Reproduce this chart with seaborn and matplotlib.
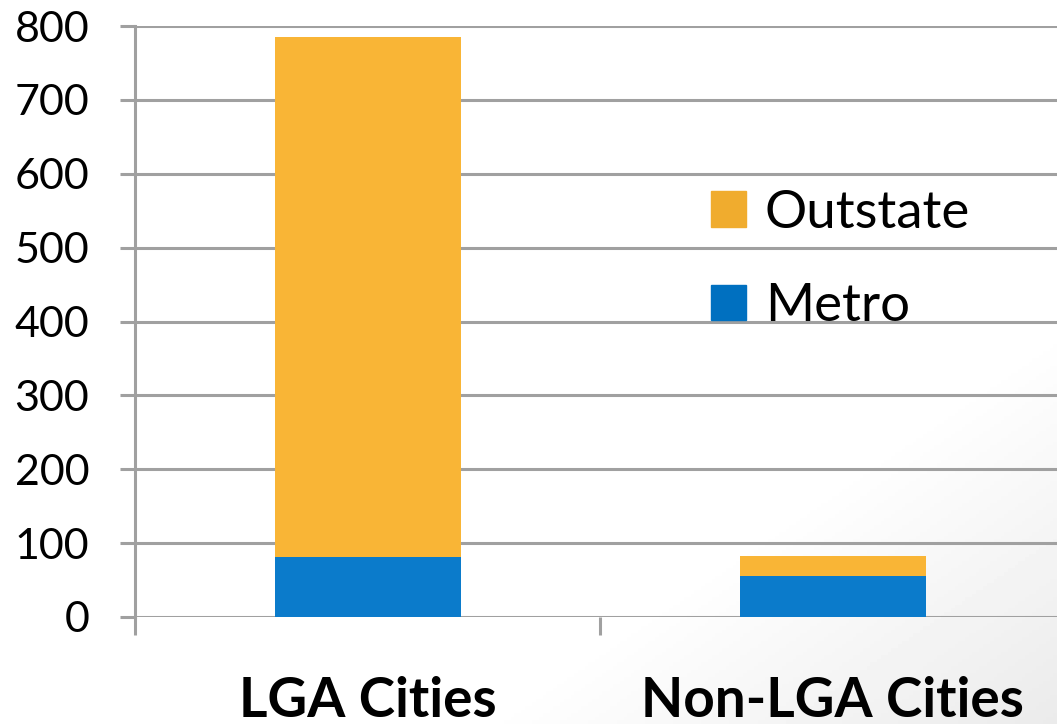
import numpy as np
import pandas as pd
import matplotlib.pyplot as plt
from matplotlib.patches import Patch
import seaborn as sns

# values
categories = ['LGA Cities', 'Non-LGA Cities']
metro = [81, 56]
outstate = [704, 27]
y_ticks = [0, 100, 200, 300, 400, 500, 600, 700, 800]

df = pd.DataFrame({'city': categories, 'Metro': metro, 'Outstate': outstate})
df['Total'] = df['Metro'] + df['Outstate']

sns.set_style('white')
plt.rcParams['font.family'] = ['Lato', 'DejaVu Sans']
plt.rcParams['text.color'] = 'black'
plt.rcParams['ytick.labelcolor'] = 'black'

fig = plt.figure(figsize=(10.57, 7.24), dpi=100)

# faint grey shading in the lower right corner
bg = fig.add_axes([0, 0, 1, 1], zorder=-5)
xx, yy = np.meshgrid(np.linspace(0, 1, 300), np.linspace(0, 1, 200))
t = np.clip((xx + yy - 1.45) / 0.55, 0, 1)
bg.imshow(1 - 0.08 * t, cmap='gray', vmin=0, vmax=1, aspect='auto', extent=[0, 1, 0, 1])
bg.axis('off')

ax = fig.add_axes([135 / 1057, 107 / 724, 930 / 1057, 591 / 724])
ax.patch.set_alpha(0)

sns.barplot(data=df, x='city', y='Total', color='#F9B536', width=0.4,
            saturation=1, linewidth=0, ax=ax, zorder=3)
sns.barplot(data=df, x='city', y='Metro', color='#0B7BCB', width=0.4,
            saturation=1, linewidth=0, ax=ax, zorder=4)

ax.set_xlim(-0.5, 1.5)
ax.set_ylim(0, 800)
ax.set_yticks(y_ticks)
ax.set_yticklabels([str(v) for v in y_ticks])
ax.yaxis.grid(True, color='#A0A0A0', linewidth=2.2, zorder=0)
ax.set_axisbelow(True)
for s in ['top', 'right', 'bottom']:
    ax.spines[s].set_visible(False)
ax.spines['left'].set_color('#A0A0A0')
ax.spines['left'].set_linewidth(2.2)

ax.tick_params(axis='y', length=11, width=2.2, color='#A0A0A0',
               labelsize=31, pad=22, left=True, labelcolor='black')
ax.set_xticks([-0.5, 0.5, 1.5], minor=False)
ax.set_xticklabels([])
ax.tick_params(axis='x', length=13, width=2.2, color='#A0A0A0', bottom=True)
ax.set_xlabel('')
ax.set_ylabel('')

for i, name in enumerate(categories):
    ax.text(i, -0.1, name, transform=ax.get_xaxis_transform(),
            ha='center', va='top', fontsize=39.5, fontweight='bold', color='black')

handles = [Patch(color='#F0AC2E', label='Outstate'),
           Patch(color='#0070C0', label='Metro')]
leg = ax.legend(handles=handles, loc='upper left', bbox_to_anchor=(0.597, 0.759),
                frameon=False, fontsize=38, handlelength=0.66, handleheight=0.66,
                handletextpad=0.35, labelspacing=0.88, borderaxespad=0)
for txt in leg.get_texts():
    txt.set_color('black')

fig.savefig('out.png', dpi=100)
